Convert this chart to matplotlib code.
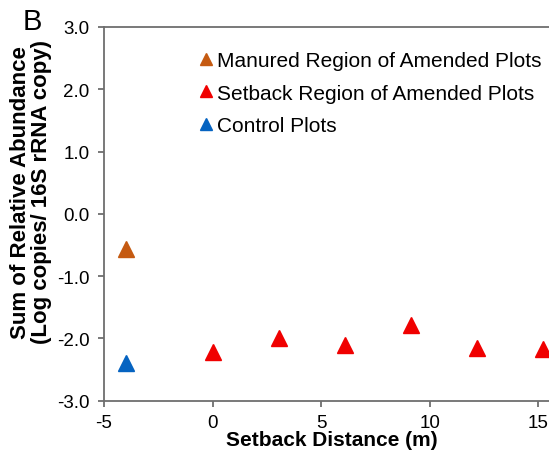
import matplotlib
matplotlib.use("Agg")
import matplotlib.pyplot as plt
from matplotlib.ticker import FormatStrFormatter

plt.rcParams['font.family'] = ['Liberation Sans', 'DejaVu Sans']
plt.rcParams['axes.unicode_minus'] = False

# Data
manured_x = [-4.0]
manured_y = [-0.57]
setback_x = [0.0, 3.05, 6.1, 9.14, 12.19, 15.24]
setback_y = [-2.22, -1.99, -2.11, -1.79, -2.15, -2.17]
control_x = [-4.0]
control_y = [-2.39]

labels = ["Manured Region of Amended Plots", "Setback Region of Amended Plots", "Control Plots"]
colors = ["#C55A11", "#F00000", "#0563C1"]
xticks = [-5, 0, 5, 10, 15]
yticks = [-3.0, -2.0, -1.0, 0.0, 1.0, 2.0, 3.0]

fig = plt.figure(figsize=(5.49, 4.52), dpi=100)
ax = fig.add_axes([104/549, (452-401.7)/452, (560-104)/549, (401.7-28)/452])

ms = 11.5
ax.plot(manured_x, manured_y, linestyle='none', marker='^', ms=ms, color=colors[0], label=labels[0])
ax.plot(setback_x, setback_y, linestyle='none', marker='^', ms=ms, color=colors[1], label=labels[1])
ax.plot(control_x, control_y, linestyle='none', marker='^', ms=ms, color=colors[2], label=labels[2])

ax.set_xlim(-5, 16)
ax.set_ylim(-3, 3)
ax.set_xticks(xticks)
ax.set_yticks(yticks)
ax.yaxis.set_major_formatter(FormatStrFormatter('%.1f'))

spine_color = '#6e6e6e'
for s in ['left', 'bottom', 'top']:
    ax.spines[s].set_color(spine_color)
    ax.spines[s].set_linewidth(1.3)
ax.spines['right'].set_visible(False)
ax.tick_params(axis='both', direction='out', length=4.5, width=1.3, color=spine_color,
               labelsize=13.5, labelcolor='black')
ax.tick_params(axis='y', pad=6)
ax.tick_params(axis='x', pad=5)

ax.set_xlabel("Setback Distance (m)", fontsize=15, fontweight='bold', labelpad=-1)
ax.set_ylabel("Sum of Relative Abundance\n(Log copies/ 16S rRNA copy)", fontsize=16,
              fontweight='bold', linespacing=1.0)
ax.yaxis.set_label_coords(-0.115, 0.56)

leg = ax.legend(loc='upper left', bbox_to_anchor=(0.211, 0.935), frameon=False, fontsize=15,
                handlelength=0.6, handletextpad=0.22, labelspacing=0.64, borderaxespad=0,
                borderpad=0, markerscale=0.75)

fig.text(23/549, 1 - 22.5/452, "B", fontsize=21, ha='left', va='center')

fig.savefig("out.png", dpi=100)
